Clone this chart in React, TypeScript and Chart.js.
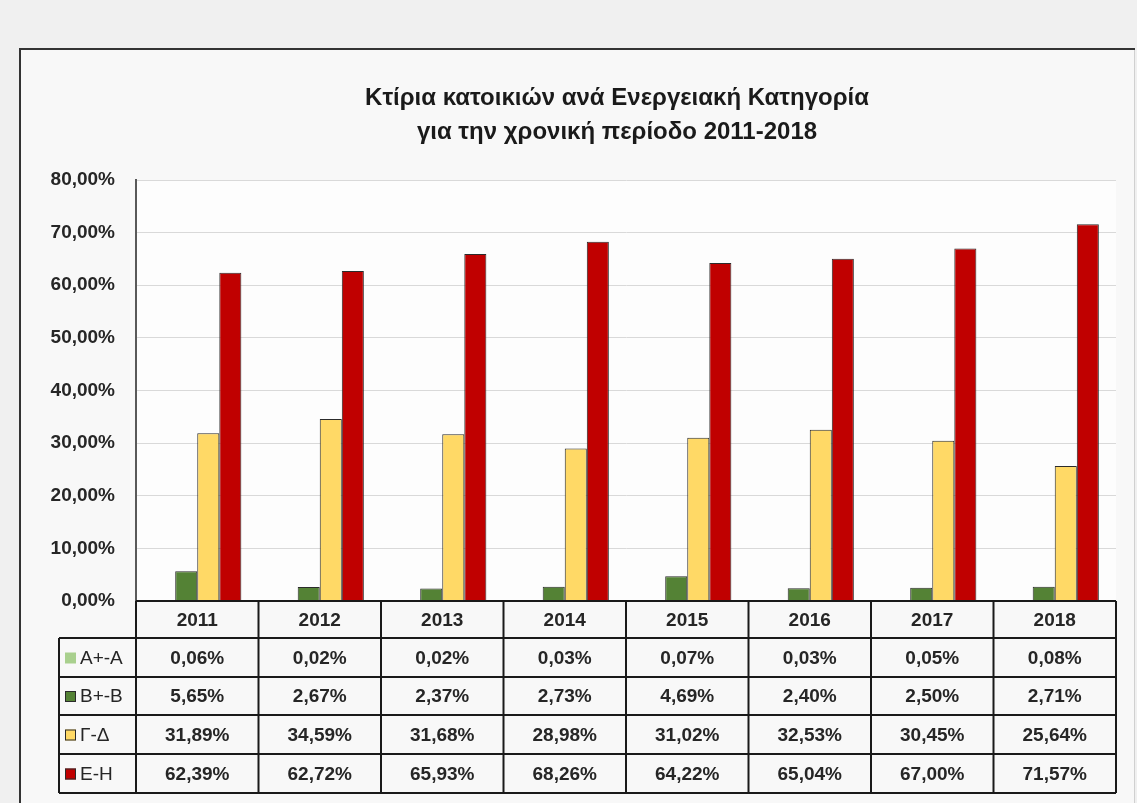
import React, { useEffect, useRef } from "react";
import { Chart, registerables } from "chart.js";

Chart.register(...registerables);

const categories = ["2011", "2012", "2013", "2014", "2015", "2016", "2017", "2018"];
const seriesNames = ["A+-A", "B+-B", "Γ-Δ", "Ε-Η"];
const aValues = [0.06, 0.02, 0.02, 0.03, 0.07, 0.03, 0.05, 0.08];
const bValues = [5.65, 2.67, 2.37, 2.73, 4.69, 2.4, 2.5, 2.71];
const gValues = [31.89, 34.59, 31.68, 28.98, 31.02, 32.53, 30.45, 25.64];
const eValues = [62.39, 62.72, 65.93, 68.26, 64.22, 65.04, 67.0, 71.57];
const seriesColors = ["#a9d08e", "#548235", "#ffd966", "#c00000"];
const titleLines = ["Κτίρια κατοικιών ανά Ενεργειακή Κατηγορία", "για την χρονική περίοδο 2011-2018"];
const yMin = 0;
const yMax = 80;
const yStep = 10;

const FONT = "'Liberation Sans', Arial, sans-serif";

const fmt = (v: number) => v.toFixed(2).replace(".", ",") + "%";

export default function App() {
  const ref = useRef<HTMLCanvasElement | null>(null);

  useEffect(() => {
    document.body.style.margin = "0";
    const canvas = ref.current;
    if (!canvas) return;
    const allSeries = [aValues, bValues, gValues, eValues];

    const framePlugin = {
      id: "frame",
      beforeDraw(chart: any) {
        const { ctx, width, height } = chart;
        ctx.save();
        ctx.fillStyle = "#f0f0f0";
        ctx.fillRect(0, 0, width, height);
        ctx.fillStyle = "#f8f8f8";
        ctx.fillRect(19, 48, 1115, height - 48);
        ctx.strokeStyle = "#d0d0d0";
        ctx.lineWidth = 1;
        ctx.beginPath();
        ctx.moveTo(1134.5, 49);
        ctx.lineTo(1134.5, height);
        ctx.stroke();
        ctx.strokeStyle = "#333333";
        ctx.lineWidth = 2;
        ctx.beginPath();
        ctx.moveTo(20, height);
        ctx.lineTo(20, 49);
        ctx.lineTo(1135, 49);
        ctx.stroke();
        ctx.fillStyle = "#fdfdfd";
        const ca = chart.chartArea;
        ctx.fillRect(ca.left, ca.top, ca.right - ca.left, ca.bottom - ca.top);
        ctx.restore();
      },
      afterDraw(chart: any) {
        const { ctx } = chart;
        const ca = chart.chartArea;
        const xs = chart.scales.x;
        ctx.save();
        // title
        ctx.fillStyle = "#1a1a1a";
        ctx.font = `bold 24px ${FONT}`;
        ctx.textAlign = "center";
        ctx.textBaseline = "middle";
        ctx.fillText(titleLines[0], 617, 98);
        ctx.fillText(titleLines[1], 617, 132);

        // table
        const rowY = [601, 638, 677, 715, 754, 793];
        const tableLeft = 59;
        const n = categories.length;
        const half = (xs.getPixelForValue(1) - xs.getPixelForValue(0)) / 2;
        const bounds: number[] = [];
        for (let i = 0; i < n; i++) bounds.push(xs.getPixelForValue(i) - half);
        bounds.push(xs.getPixelForValue(n - 1) + half);

        ctx.strokeStyle = "#1a1a1a";
        ctx.lineWidth = 2;
        ctx.beginPath();
        ctx.moveTo(ca.left, rowY[0]);
        ctx.lineTo(ca.right, rowY[0]);
        for (let r = 1; r < rowY.length; r++) {
          ctx.moveTo(tableLeft, rowY[r]);
          ctx.lineTo(ca.right, rowY[r]);
        }
        bounds.forEach((bx) => {
          ctx.moveTo(bx, rowY[0]);
          ctx.lineTo(bx, rowY[rowY.length - 1]);
        });
        ctx.moveTo(tableLeft, rowY[1]);
        ctx.lineTo(tableLeft, rowY[rowY.length - 1]);
        ctx.stroke();

        ctx.font = `bold 19px ${FONT}`;
        ctx.fillStyle = "#262626";
        ctx.textAlign = "center";
        categories.forEach((c, i) => {
          ctx.fillText(c, xs.getPixelForValue(i), (rowY[0] + rowY[1]) / 2 + 1);
        });
        allSeries.forEach((vals, s) => {
          const cy = (rowY[s + 1] + rowY[s + 2]) / 2 + 1;
          ctx.font = `bold 19px ${FONT}`;
          ctx.fillStyle = "#262626";
          vals.forEach((v, i) => {
            ctx.textAlign = "center";
            ctx.fillText(fmt(v), xs.getPixelForValue(i), cy);
          });
          // legend key
          ctx.fillStyle = seriesColors[s];
          ctx.fillRect(65, cy - 6, 11, 11);
          if (s > 0) {
            ctx.strokeStyle = "#2b2b2b";
            ctx.lineWidth = 1;
            ctx.strokeRect(65.5, cy - 5.5, 10, 10);
          }
          ctx.fillStyle = "#262626";
          ctx.textAlign = "left";
          ctx.font = `19px ${FONT}`;
          ctx.fillText(seriesNames[s], 80, cy);
        });
        ctx.restore();
      },
    };

    const chart = new Chart(canvas, {
      type: "bar",
      data: {
        labels: categories,
        datasets: allSeries.map((vals, s) => ({
          label: seriesNames[s],
          data: vals,
          backgroundColor: seriesColors[s],
          borderColor: "#2b2b2b",
          borderWidth: s === 0 ? 0 : 1,
          categoryPercentage: 0.72,
          barPercentage: 1.0,
        })),
      },
      options: {
        animation: false,
        responsive: true,
        maintainAspectRatio: false,
        layout: { padding: { left: 19, top: 180, right: 21, bottom: 202 } },
        plugins: {
          legend: { display: false },
          title: { display: false },
          tooltip: { enabled: false },
        },
        scales: {
          x: { display: false },
          y: {
            min: yMin,
            max: yMax,
            afterFit: (scale: any) => {
              scale.width = 117;
            },
            ticks: {
              stepSize: yStep,
              padding: 21,
              color: "#262626",
              font: { family: FONT, size: 19, weight: "bold" },
              callback: (v: any) => fmt(Number(v)),
            },
            grid: { color: "#d9d9d9", lineWidth: 1, drawTicks: false },
            border: { display: true, color: "#595959", width: 2 },
          },
        },
      },
      plugins: [framePlugin],
    });
    return () => chart.destroy();
  }, []);

  return (
    <div style={{ width: 1137, height: 803, position: "relative" }}>
      <canvas ref={ref} />
    </div>
  );
}
